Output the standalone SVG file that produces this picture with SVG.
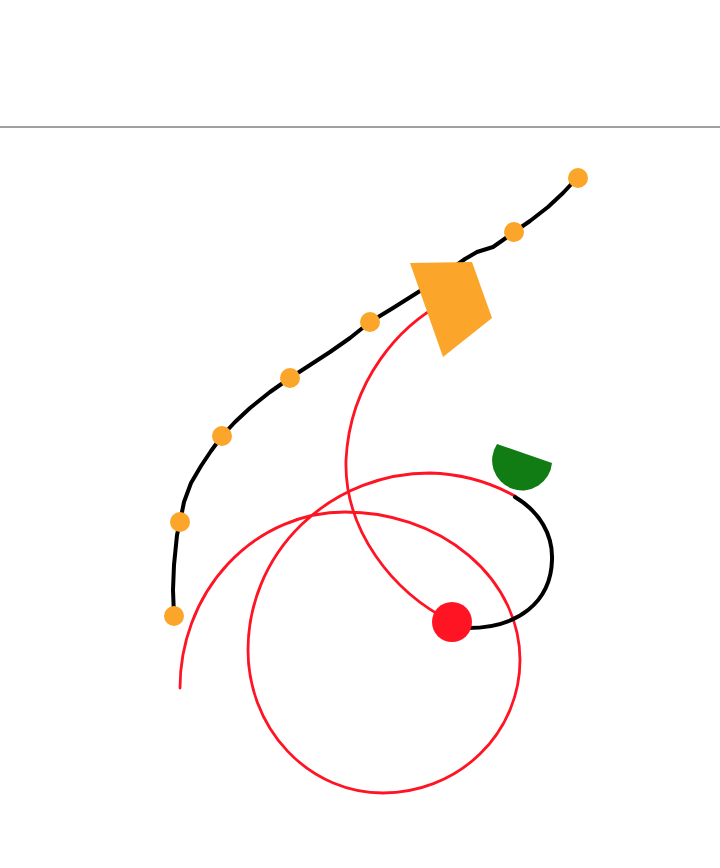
<svg xmlns="http://www.w3.org/2000/svg" width="720" height="868" viewBox="0 0 720 868">
  <style>
    .red { fill: none; stroke: #ff1424; stroke-width: 2.8; stroke-linecap: round; }
    .blk { fill: none; stroke: #000; stroke-width: 4; stroke-linecap: round; stroke-linejoin: round; }
    .dot { fill: #fba52a; }
  </style>
  <rect width="720" height="868" fill="#fff"/>
  <line id="divider" x1="0" y1="127" x2="720" y2="127" stroke="#808080" stroke-width="1.4"/>
  <g id="connectors">
    <path class="red" d="M445,302 C400,325 350,380 346,460 C344,530 392,592 452,622"/>
    <path class="red" d="M180,688 A165,176 0 0 1 345,512 A175,148 0 0 1 520,660 A137,133 0 0 1 383,793 A135,143 0 0 1 248,650 A182,177 0 0 1 430,473 A182,177 0 0 1 515,496"/>
    <path class="blk" d="M515,497 C540,512 553,535 552,560 C551,600 520,630 462,628"/>
    <polyline class="blk" points="174,616 173,590 174,565 177,535 180,522 184,502 191,483 201,466 211,451 222,436 235,422 250,408 270,392 290,378 310,365 330,352 350,338 370,322 393,308 420,291 440,277 455,266 465,259 477,252 493,247 503,240 514,232 530,221 548,207 563,193 578,177"/>
  </g>
  <g id="points">
    <circle class="dot" cx="578" cy="178" r="10"/>
    <circle class="dot" cx="514" cy="232" r="10"/>
    <circle class="dot" cx="370" cy="322" r="10"/>
    <circle class="dot" cx="290" cy="378" r="10"/>
    <circle class="dot" cx="222" cy="436" r="10"/>
    <circle class="dot" cx="180" cy="522" r="10"/>
    <circle class="dot" cx="174" cy="616" r="10"/>
  </g>
  <g id="quad">
    <polygon points="410,263 472,262 492,318 443,357" fill="#fba52a"/>
  </g>
  <g id="half-disc">
    <path d="M497,444 A30,30 0 1 0 552,463 Z" fill="#127c14"/>
  </g>
  <g id="red-dot">
    <circle cx="452" cy="622" r="20" fill="#ff1424"/>
  </g>
</svg>
